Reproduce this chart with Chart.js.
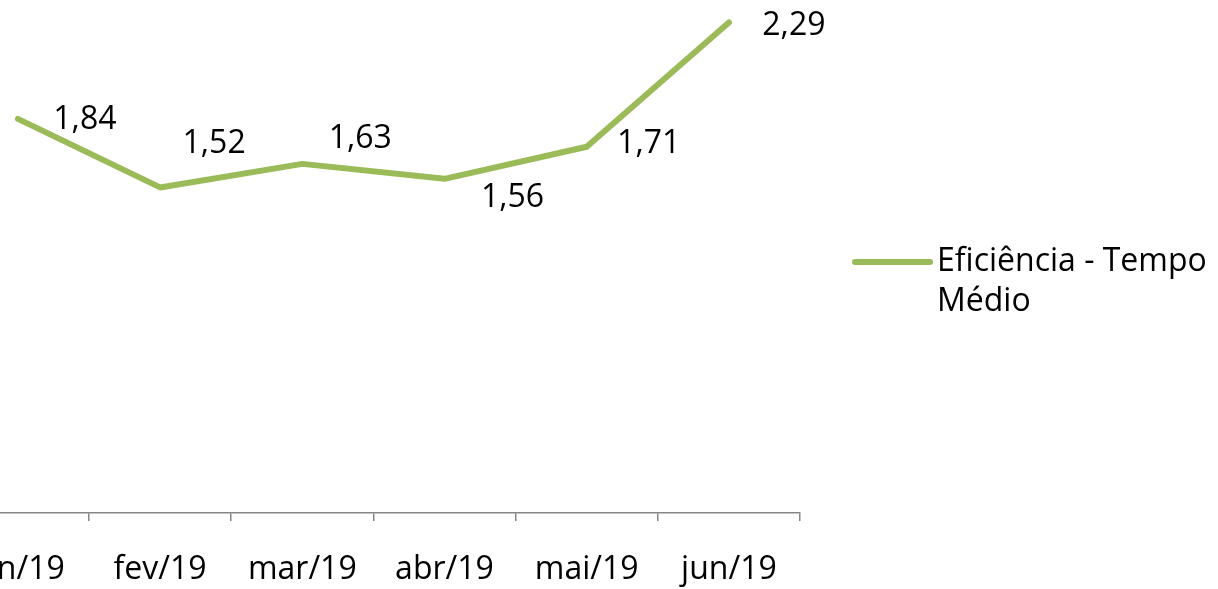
<!DOCTYPE html>
<html>
<head>
<meta charset="utf-8">
<script src="https://cdn.jsdelivr.net/npm/chart.js@4"></script>
<style>
  html, body { margin: 0; padding: 0; background: #fff; overflow: hidden; }
  #wrap { position: absolute; left: -59px; top: 0; width: 1277px; height: 589px; }
</style>
</head>
<body>
<div id="wrap"><canvas id="chartLine"></canvas></div>
<script>
const labels = ["jan/19", "fev/19", "mar/19", "abr/19", "mai/19", "jun/19"];
const tempoMedio = [1.84, 1.52, 1.63, 1.56, 1.71, 2.29];
const seriesName = ["Eficiência - Tempo", "Médio"];

// where each value label sits, relative to its point (Excel moved them by hand)
const labelShift = [[67, 1], [54, -44], [58, -25], [68, 19], [62, -3], [65, 3]];

const green = "#9BBB59";
const font = "'Open Sans', sans-serif";

const valueLabels = {
  id: "valueLabels",
  afterDatasetsDraw(chart) {
    const ctx = chart.ctx;
    const meta = chart.getDatasetMeta(0);
    ctx.save();
    ctx.font = "32px " + font;
    ctx.fillStyle = "#000";
    ctx.textAlign = "center";
    ctx.textBaseline = "middle";
    meta.data.forEach((pt, i) => {
      const txt = tempoMedio[i].toFixed(2).replace(".", ",");
      ctx.fillText(txt, pt.x + labelShift[i][0], pt.y + labelShift[i][1]);
    });

    // legend on the right, wrapped over two lines
    const x0 = chart.chartArea.right + 55;
    const y0 = 262;
    ctx.strokeStyle = green;
    ctx.lineWidth = 6;
    ctx.lineCap = "round";
    ctx.beginPath();
    ctx.moveTo(x0, y0);
    ctx.lineTo(x0 + 75, y0);
    ctx.stroke();
    ctx.textAlign = "left";
    seriesName.forEach((t, i) => ctx.fillText(t, x0 + 82, y0 + i * 40));
    ctx.restore();
  },
};

const dataLine = {
  labels: labels,
  datasets: [
    {
      label: seriesName.join(" "),
      data: tempoMedio,
      borderColor: green,
      backgroundColor: green,
      borderWidth: 6,
      borderCapStyle: "round",
      borderJoinStyle: "round",
      pointRadius: 0,
      tension: 0,
      clip: false,
    },
  ],
};

const configLine = {
  type: "line",
  data: dataLine,
  options: {
    responsive: true,
    maintainAspectRatio: false,
    animation: false,
    layout: { padding: { left: 0, right: 418, top: 0, bottom: 0 } },
    plugins: { legend: { display: false }, tooltip: { enabled: false } },
    scales: {
      x: {
        offset: true,
        afterFit: (s) => { s.height = 76; },
        grid: {
          offset: true,
          drawOnChartArea: false,
          tickLength: 8,
          color: "#868686",
          lineWidth: 1.5,
        },
        border: { color: "#868686", width: 1.5 },
        ticks: {
          color: "#000",
          padding: 30,
          maxRotation: 0,
          autoSkip: false,
          font: { family: font, size: 32 },
        },
      },
      y: { display: false, min: 0, max: 2.395 },
    },
  },
  plugins: [valueLabels],
};

const chartLine = new Chart(document.getElementById("chartLine"), configLine);
</script>
</body>
</html>
